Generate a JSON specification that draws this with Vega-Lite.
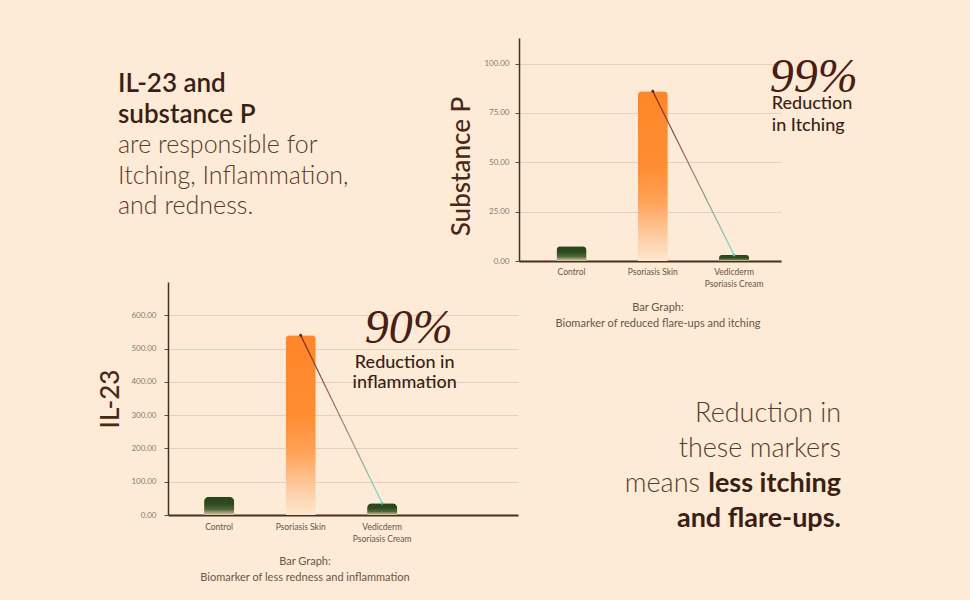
{
  "$schema": "https://vega.github.io/schema/vega-lite/v6.json",
  "background": "#fdead7",
  "padding": {"left": 97, "top": 38, "right": 130, "bottom": 60},
  "config": {
    "font": "Lato",
    "view": {"stroke": null},
    "axis": {"labelFont": "Lato", "titleFont": "Lato"},
    "title": {"font": "Lato"}
  },
  "columns": 3,
  "align": "each",
  "bounds": "flush",
  "spacing": {"row": 21, "column": 1},
  "concat": [
    {
      "width": 49,
      "height": 223,
      "data": {"values": [
        {"line": 1, "text": "IL-23 and", "part": "heading"},
        {"line": 2, "text": "substance P", "part": "heading"},
        {"line": 3, "text": "are responsible for", "part": "body"},
        {"line": 4, "text": "Itching, Inflammation,", "part": "body"},
        {"line": 5, "text": "and redness.", "part": "body"}
      ]},
      "encoding": {
        "x": {"value": 0},
        "y": {"field": "line", "type": "quantitative", "scale": {"domain": [1, 5], "range": [54, 176.4], "nice": false, "zero": false}, "axis": null},
        "text": {"field": "text"}
      },
      "layer": [
        {
          "transform": [{"filter": "datum.part === 'heading'"}],
          "mark": {"type": "text", "align": "left", "baseline": "alphabetic", "fontSize": 26, "fontWeight": 600, "color": "#3b1f14"}
        },
        {
          "transform": [{"filter": "datum.part === 'body'"}],
          "mark": {"type": "text", "align": "left", "baseline": "alphabetic", "fontSize": 25, "fontWeight": 300, "color": "#5b3a2b"}
        }
      ]
    },
    {
      "width": 1,
      "height": 1,
      "data": {"values": []},
      "mark": "point"
    },
    {
      "width": 262,
      "height": 223,
      "title": {
        "text": ["Bar Graph:", "Biomarker of reduced flare-ups and itching"],
        "orient": "bottom", "anchor": "middle", "fontSize": 11, "fontWeight": "normal",
        "color": "#6b5545", "lineHeight": 16, "offset": 14, "dx": 8
      },
      "data": {"values": [
        {"group": "Control", "value": 7.5},
        {"group": "Psoriasis Skin", "value": 86},
        {"group": "Vedicderm Psoriasis Cream", "value": 3}
      ]},
      "encoding": {
        "x": {
          "field": "group", "type": "nominal",
          "scale": {"domain": ["Control", "Psoriasis Skin", "Vedicderm Psoriasis Cream"], "paddingInner": 0.63, "paddingOuter": 0.427, "align": 0.54},
          "axis": {
            "title": null, "labelAngle": 0, "ticks": false, "labelFontSize": 8.5, "labelColor": "#6b5545",
            "labelPadding": 6, "labelLineHeight": 12, "domainColor": "#4a2e1e", "domainWidth": 2, "grid": false,
            "labelExpr": "datum.value === 'Vedicderm Psoriasis Cream' ? ['Vedicderm', 'Psoriasis Cream'] : datum.label"
          }
        },
        "y": {
          "field": "value", "type": "quantitative",
          "scale": {"domain": [0, 113], "nice": false},
          "axis": {
            "title": "Substance P", "titleFontSize": 26, "titleFontWeight": 500, "titleColor": "#4a2816",
            "titlePadding": 9, "titleY": 128, "values": [0, 25, 50, 75, 100], "format": ".2f",
            "labelFontSize": 8, "labelColor": "#8c7b70", "labelPadding": 6, "tickSize": 4, "tickColor": "#6b4a3a",
            "domainColor": "#4a2e1e", "domainWidth": 1.5, "grid": true, "gridColor": "#e0c6ad", "gridOpacity": 0.75
          }
        }
      },
      "layer": [
        {
          "transform": [{"filter": "datum.group === 'Psoriasis Skin'"}],
          "mark": {
            "type": "bar", "cornerRadiusTopLeft": 4, "cornerRadiusTopRight": 4,
            "color": {"gradient": "linear", "x1": 0, "y1": 1, "x2": 0, "y2": 0, "stops": [
              {"offset": 0, "color": "#fde6cf"},
              {"offset": 0.12, "color": "#fdd1ab"},
              {"offset": 0.35, "color": "#ffa258"},
              {"offset": 0.55, "color": "#ff8d33"},
              {"offset": 1, "color": "#ff8629"}
            ]}
          }
        },
        {
          "transform": [{"filter": "datum.group !== 'Psoriasis Skin'"}],
          "mark": {
            "type": "bar", "cornerRadiusTopLeft": 4, "cornerRadiusTopRight": 4,
            "color": {"gradient": "linear", "x1": 0, "y1": 1, "x2": 0, "y2": 0, "stops": [
              {"offset": 0, "color": "#d9cfaa"},
              {"offset": 0.3, "color": "#50683a"},
              {"offset": 0.6, "color": "#2d4a1f"},
              {"offset": 1, "color": "#27431b"}
            ]}
          }
        },
        {
          "transform": [{"filter": "datum.group !== 'Control'"}],
          "mark": {
            "type": "line", "strokeWidth": 1.2,
            "stroke": {"gradient": "linear", "x1": 0, "y1": 0, "x2": 0, "y2": 1, "stops": [
              {"offset": 0, "color": "#6b2418"},
              {"offset": 0.5, "color": "#a8786e"},
              {"offset": 1, "color": "#6fe0cf"}
            ]}
          }
        },
        {
          "transform": [{"filter": "datum.group !== 'Control'"}],
          "mark": {"type": "point", "filled": true, "size": 8, "opacity": 1},
          "encoding": {
            "color": {"condition": {"test": "datum.group === 'Psoriasis Skin'", "value": "#6a2616"}, "value": "#4fc9b8"}
          }
        },
        {
          "transform": [{"filter": "datum.group === 'Psoriasis Skin'"}],
          "layer": [
            {"mark": {"type": "text", "text": "99%", "font": "Liberation Serif", "fontStyle": "italic", "fontSize": 48, "color": "#4a1e12", "align": "center", "baseline": "alphabetic", "dx": 161, "dy": 1}},
            {"mark": {"type": "text", "text": "Reduction", "fontSize": 18, "fontWeight": 500, "color": "#3b1f14", "align": "left", "baseline": "alphabetic", "dx": 119, "dy": 18}},
            {"mark": {"type": "text", "text": "in Itching", "fontSize": 18, "fontWeight": 500, "color": "#3b1f14", "align": "left", "baseline": "alphabetic", "dx": 119, "dy": 40}}
          ]
        }
      ]
    },
    {
      "width": 49,
      "height": 1,
      "data": {"values": []},
      "mark": "point"
    },
    {
      "width": 350,
      "height": 233,
      "title": {
        "text": ["Bar Graph:", "Biomarker of less redness and inflammation"],
        "orient": "bottom", "anchor": "middle", "fontSize": 11, "fontWeight": "normal",
        "color": "#6b5545", "lineHeight": 16, "offset": 13, "dx": -38
      },
      "data": {"values": [
        {"group": "Control", "value": 55},
        {"group": "Psoriasis Skin", "value": 540},
        {"group": "Vedicderm Psoriasis Cream", "value": 35}
      ]},
      "encoding": {
        "x": {
          "field": "group", "type": "nominal",
          "scale": {"domain": ["Control", "Psoriasis Skin", "Vedicderm Psoriasis Cream"], "paddingInner": 0.63, "paddingOuter": 0.962, "align": 0.23},
          "axis": {
            "title": null, "labelAngle": 0, "ticks": false, "labelFontSize": 8.5, "labelColor": "#6b5545",
            "labelPadding": 7, "labelLineHeight": 12, "domainColor": "#4a2e1e", "domainWidth": 2, "grid": false,
            "labelExpr": "datum.value === 'Vedicderm Psoriasis Cream' ? ['Vedicderm', 'Psoriasis Cream'] : datum.label"
          }
        },
        "y": {
          "field": "value", "type": "quantitative",
          "scale": {"domain": [0, 700], "nice": false},
          "axis": {
            "title": "IL-23", "titleFontSize": 26, "titleFontWeight": 500, "titleColor": "#4a2816",
            "titlePadding": 7, "values": [0, 100, 200, 300, 400, 500, 600], "format": ".2f",
            "labelFontSize": 8, "labelColor": "#8c7b70", "labelPadding": 8, "tickSize": 4, "tickColor": "#6b4a3a",
            "domainColor": "#4a2e1e", "domainWidth": 1.5, "grid": true, "gridColor": "#e0c6ad", "gridOpacity": 0.75
          }
        }
      },
      "layer": [
        {
          "transform": [{"filter": "datum.group === 'Psoriasis Skin'"}],
          "mark": {
            "type": "bar", "cornerRadiusTopLeft": 4, "cornerRadiusTopRight": 4,
            "color": {"gradient": "linear", "x1": 0, "y1": 1, "x2": 0, "y2": 0, "stops": [
              {"offset": 0, "color": "#fde6cf"},
              {"offset": 0.12, "color": "#fdd1ab"},
              {"offset": 0.35, "color": "#ffa258"},
              {"offset": 0.55, "color": "#ff8d33"},
              {"offset": 1, "color": "#ff8629"}
            ]}
          }
        },
        {
          "transform": [{"filter": "datum.group !== 'Psoriasis Skin'"}],
          "mark": {
            "type": "bar", "cornerRadiusTopLeft": 5, "cornerRadiusTopRight": 5,
            "color": {"gradient": "linear", "x1": 0, "y1": 1, "x2": 0, "y2": 0, "stops": [
              {"offset": 0, "color": "#d9cfaa"},
              {"offset": 0.3, "color": "#50683a"},
              {"offset": 0.6, "color": "#2d4a1f"},
              {"offset": 1, "color": "#27431b"}
            ]}
          }
        },
        {
          "transform": [{"filter": "datum.group !== 'Control'"}],
          "mark": {
            "type": "line", "strokeWidth": 1.2,
            "stroke": {"gradient": "linear", "x1": 0, "y1": 0, "x2": 0, "y2": 1, "stops": [
              {"offset": 0, "color": "#6b2418"},
              {"offset": 0.5, "color": "#a8786e"},
              {"offset": 1, "color": "#6fe0cf"}
            ]}
          }
        },
        {
          "transform": [{"filter": "datum.group !== 'Control'"}],
          "mark": {"type": "point", "filled": true, "size": 8, "opacity": 1},
          "encoding": {
            "color": {"condition": {"test": "datum.group === 'Psoriasis Skin'", "value": "#6a2616"}, "value": "#4fc9b8"}
          }
        },
        {
          "transform": [{"filter": "datum.group === 'Psoriasis Skin'"}],
          "layer": [
            {"mark": {"type": "text", "text": "90%", "font": "Liberation Serif", "fontStyle": "italic", "fontSize": 48, "color": "#4a1e12", "align": "center", "baseline": "alphabetic", "dx": 108, "dy": 8}},
            {"mark": {"type": "text", "text": "Reduction in", "fontSize": 18, "fontWeight": 500, "color": "#3b1f14", "align": "center", "baseline": "alphabetic", "dx": 104, "dy": 33}},
            {"mark": {"type": "text", "text": "inflammation", "fontSize": 18, "fontWeight": 500, "color": "#3b1f14", "align": "center", "baseline": "alphabetic", "dx": 104, "dy": 53}}
          ]
        }
      ]
    },
    {
      "width": 322,
      "height": 233,
      "data": {"values": [
        {"line": 1, "text": "Reduction in", "part": "plain"},
        {"line": 2, "text": "these markers", "part": "plain"},
        {"line": 3, "text": "means", "part": "lead"},
        {"line": 3, "text": "less itching", "part": "bold"},
        {"line": 4, "text": "and flare-ups.", "part": "bold"}
      ]},
      "encoding": {
        "x": {"value": "width"},
        "y": {"field": "line", "type": "quantitative", "scale": {"domain": [1, 4], "range": [140, 245], "nice": false, "zero": false}, "axis": null},
        "text": {"field": "text"}
      },
      "layer": [
        {
          "transform": [{"filter": "datum.part === 'plain'"}],
          "mark": {"type": "text", "align": "right", "baseline": "alphabetic", "fontSize": 27, "fontWeight": 300, "color": "#5b3a2b"}
        },
        {
          "transform": [{"filter": "datum.part === 'lead'"}],
          "mark": {"type": "text", "align": "right", "baseline": "alphabetic", "fontSize": 27, "fontWeight": 300, "color": "#5b3a2b", "dx": -141}
        },
        {
          "transform": [{"filter": "datum.part === 'bold'"}],
          "mark": {"type": "text", "align": "right", "baseline": "alphabetic", "fontSize": 27, "fontWeight": 700, "color": "#3b1f14"}
        }
      ]
    }
  ]
}
